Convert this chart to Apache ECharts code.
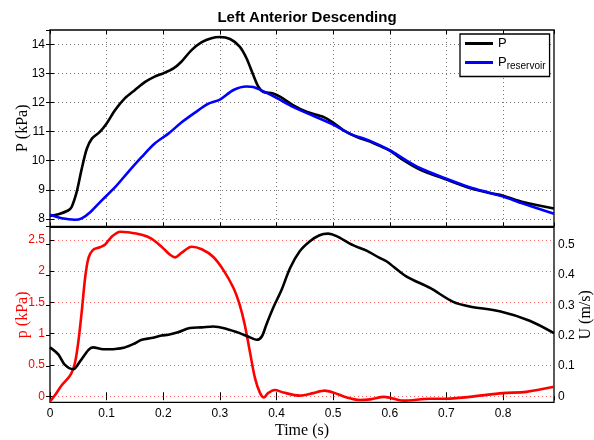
<!DOCTYPE html>
<html>
<head>
<meta charset="utf-8">
<script src="https://cdn.jsdelivr.net/npm/echarts@6/dist/echarts.min.js"></script>
<style>html,body{margin:0;padding:0;background:#fff}#c{width:594px;height:440px}</style>
</head>
<body>
<div id="c"></div>
<script>
// ---- data ----
const tP = [0,0.015,0.032,0.038,0.047,0.056,0.065,0.074,0.088,0.1,0.115,0.132,0.15,0.168,0.185,0.2,0.218,0.232,0.25,0.268,0.285,0.3,0.318,0.335,0.347,0.359,0.368,0.376,0.394,0.406,0.429,0.453,0.482,0.5,0.518,0.541,0.565,0.582,0.6,0.624,0.653,0.7,0.741,0.776,0.8,0.835,0.89];
const P  = [8.10,8.16,8.29,8.40,8.92,9.72,10.41,10.76,10.99,11.28,11.74,12.14,12.43,12.71,12.89,13.0,13.17,13.40,13.80,14.07,14.21,14.25,14.18,13.92,13.52,12.94,12.54,12.37,12.31,12.2,11.91,11.68,11.51,11.31,11.05,10.82,10.66,10.51,10.35,10.02,9.70,9.35,9.06,8.89,8.80,8.58,8.36];
const tRes = [0,0.021,0.044,0.056,0.071,0.091,0.115,0.138,0.162,0.185,0.209,0.232,0.256,0.279,0.3,0.324,0.347,0.359,0.376,0.4,0.429,0.459,0.5,0.529,0.565,0.6,0.624,0.653,0.7,0.741,0.776,0.8,0.835,0.89];
const Pres = [8.14,8.02,7.97,8.02,8.23,8.63,9.09,9.61,10.13,10.59,10.93,11.31,11.65,11.95,12.1,12.43,12.55,12.53,12.39,12.16,11.85,11.59,11.24,10.93,10.68,10.36,10.07,9.75,9.38,9.09,8.9,8.77,8.53,8.18];
const tp = [0,0.009,0.021,0.032,0.038,0.044,0.05,0.056,0.062,0.068,0.076,0.088,0.097,0.109,0.124,0.138,0.162,0.179,0.197,0.212,0.221,0.232,0.25,0.268,0.288,0.306,0.324,0.335,0.344,0.353,0.362,0.371,0.378,0.385,0.397,0.412,0.441,0.465,0.485,0.5,0.524,0.547,0.565,0.59,0.624,0.671,0.7,0.741,0.8,0.841,0.89];
const p  = [-0.085,0.02,0.18,0.29,0.37,0.53,0.87,1.35,1.89,2.21,2.34,2.38,2.42,2.55,2.63,2.62,2.58,2.52,2.39,2.26,2.22,2.29,2.39,2.35,2.23,2.02,1.73,1.46,1.14,0.71,0.29,0.05,-0.02,0.05,0.10,0.06,0.01,0.05,0.09,0.06,-0.02,-0.06,-0.05,-0.01,-0.07,-0.04,-0.04,-0.01,0.05,0.07,0.15];
const tU = [0,0.015,0.026,0.041,0.053,0.068,0.076,0.094,0.115,0.132,0.147,0.162,0.179,0.197,0.209,0.226,0.247,0.268,0.288,0.312,0.335,0.353,0.365,0.374,0.382,0.394,0.409,0.424,0.441,0.459,0.476,0.491,0.506,0.535,0.559,0.582,0.594,0.629,0.671,0.712,0.741,0.794,0.847,0.89];
const U  = [0.161,0.137,0.104,0.089,0.115,0.153,0.161,0.155,0.156,0.161,0.172,0.186,0.192,0.2,0.203,0.211,0.225,0.227,0.23,0.222,0.208,0.194,0.186,0.197,0.236,0.291,0.351,0.423,0.478,0.511,0.531,0.536,0.528,0.498,0.48,0.456,0.445,0.395,0.357,0.311,0.296,0.280,0.249,0.208];
const titleText = 'Left Anterior Descending';
const xName = 'Time (s)';
const yNameTop = 'P (kPa)';
const yNameP = 'p (kPa)';
const yNameU = 'U (m/s)';
const legendNames = ['P', 'Preservoir'];

const zip = (a, b) => a.map((v, i) => [v, b[i]]);
const SANS = 'Liberation Sans, Arial, Helvetica, sans-serif';
const SERIF = 'Liberation Serif, Times New Roman, serif';
const tick = {show: true, inside: true, length: 4, lineStyle: {color: '#000', width: 1}};
const noLabel = {show: false};

const chart = echarts.init(document.getElementById('c'), null, {renderer: 'canvas'});
chart.setOption({
  animation: false,
  backgroundColor: '#fff',
  title: {
    text: titleText, left: 302, top: 5, textAlign: 'center',
    textStyle: {fontFamily: SANS, fontSize: 15, fontWeight: 'bold', color: '#000'}
  },
  grid: [
    {left: 50, top: 30, width: 504, height: 196.5, show: true, borderColor: '#000', borderWidth: 1.3, containLabel: false, outerBoundsMode: 'none'},
    {left: 50, top: 227.3, width: 504, height: 175, show: true, borderColor: '#000', borderWidth: 1.3, containLabel: false, outerBoundsMode: 'none'}
  ],
  legend: {
    data: legendNames, left: 460, top: 34, orient: 'vertical',
    backgroundColor: '#fff', borderColor: '#000', borderWidth: 1.3,
    padding: [3, 4, 5, 5], itemGap: 6, itemWidth: 28, itemHeight: 3, icon: 'rect',
    textStyle: {fontFamily: SANS, fontSize: 13, color: '#000',
      rich: {sub: {fontFamily: SANS, fontSize: 10, color: '#000', padding: [8, 0, 0, 0]}}},
    formatter: n => n === 'Preservoir' ? 'P{sub|reservoir}' : n
  },
  xAxis: [
    {gridIndex: 0, type: 'value', min: 0, max: 0.89, splitNumber: 9, position: 'bottom',
      axisLine: {show: false}, axisTick: tick, axisLabel: noLabel,
      splitLine: {show: true, showMinLine: false, showMaxLine: false, lineStyle: {color: '#777', width: 1, type: [1, 3]}}},
    {gridIndex: 0, type: 'value', min: 0, max: 0.89, splitNumber: 9, position: 'top',
      axisLine: {show: false}, axisTick: tick, axisLabel: noLabel, splitLine: {show: false}},
    {gridIndex: 1, type: 'value', min: 0, max: 0.89, splitNumber: 9, position: 'bottom',
      axisLine: {show: false}, axisTick: tick,
      axisLabel: {show: true, margin: 5, showMaxLabel: false, fontFamily: SANS, fontSize: 12, color: '#000'},
      splitLine: {show: false},
      name: xName, nameLocation: 'middle', nameGap: 20, nameMoveOverlap: false,
      nameTextStyle: {fontFamily: SERIF, fontSize: 16, color: '#000'}},
    {gridIndex: 1, type: 'value', min: 0, max: 0.89, splitNumber: 9, position: 'top',
      axisLine: {show: false}, axisTick: tick, axisLabel: noLabel, splitLine: {show: false}}
  ],
  yAxis: [
    {gridIndex: 0, type: 'value', min: 7.74, max: 14.49, splitNumber: 7, position: 'left',
      axisLine: {show: false}, axisTick: tick,
      axisLabel: {show: true, margin: 5, showMinLabel: false, showMaxLabel: false, fontFamily: SANS, fontSize: 12, color: '#000'},
      splitLine: {show: true, showMinLine: false, showMaxLine: false, lineStyle: {color: '#777', width: 1, type: [1, 3]}},
      name: yNameTop, nameLocation: 'middle', nameGap: 19, nameRotate: 90, nameMoveOverlap: false,
      nameTextStyle: {fontFamily: SERIF, fontSize: 16, color: '#000'}},
    {gridIndex: 0, type: 'value', min: 7.74, max: 14.49, splitNumber: 7, position: 'right',
      axisLine: {show: false}, axisTick: tick, axisLabel: noLabel, splitLine: {show: false}},
    {gridIndex: 1, type: 'value', min: -0.097, max: 2.70, splitNumber: 6, position: 'left',
      axisLine: {show: false}, axisTick: tick,
      axisLabel: {show: true, margin: 5, showMinLabel: false, showMaxLabel: false, fontFamily: SANS, fontSize: 12, color: '#ff0000'},
      splitLine: {show: true, showMinLine: false, showMaxLine: false, lineStyle: {color: '#ff6666', width: 1, type: [1, 3]}},
      name: yNameP, nameLocation: 'middle', nameGap: 19, nameRotate: 90, nameMoveOverlap: false,
      nameTextStyle: {fontFamily: SERIF, fontSize: 16, color: '#ff0000'}},
    {gridIndex: 1, type: 'value', min: -0.02, max: 0.557, splitNumber: 6, position: 'right',
      axisLine: {show: false}, axisTick: tick,
      axisLabel: {show: true, margin: 4, showMinLabel: false, showMaxLabel: false, fontFamily: SANS, fontSize: 12, color: '#000'},
      splitLine: {show: false},
      name: yNameU, nameLocation: 'middle', nameGap: 24, nameRotate: 90, nameMoveOverlap: false,
      nameTextStyle: {fontFamily: SERIF, fontSize: 16, color: '#000'}}
  ],
  series: [
    {name: 'P', type: 'line', xAxisIndex: 0, yAxisIndex: 0, data: zip(tP, P), smooth: 0.3,
      showSymbol: false, lineStyle: {color: '#000', width: 2.6}, itemStyle: {color: '#000'}},
    {name: 'Preservoir', type: 'line', xAxisIndex: 0, yAxisIndex: 0, data: zip(tRes, Pres), smooth: 0.3,
      showSymbol: false, lineStyle: {color: '#0000ff', width: 2.6}, itemStyle: {color: '#0000ff'}},
    {name: 'p', type: 'line', xAxisIndex: 2, yAxisIndex: 2, data: zip(tp, p), smooth: 0.3,
      showSymbol: false, lineStyle: {color: '#ff0000', width: 2.6}, itemStyle: {color: '#ff0000'}},
    {name: 'U', type: 'line', xAxisIndex: 2, yAxisIndex: 3, data: zip(tU, U), smooth: 0.3,
      showSymbol: false, lineStyle: {color: '#000', width: 2.6}, itemStyle: {color: '#000'}}
  ]
});
</script>
</body>
</html>
